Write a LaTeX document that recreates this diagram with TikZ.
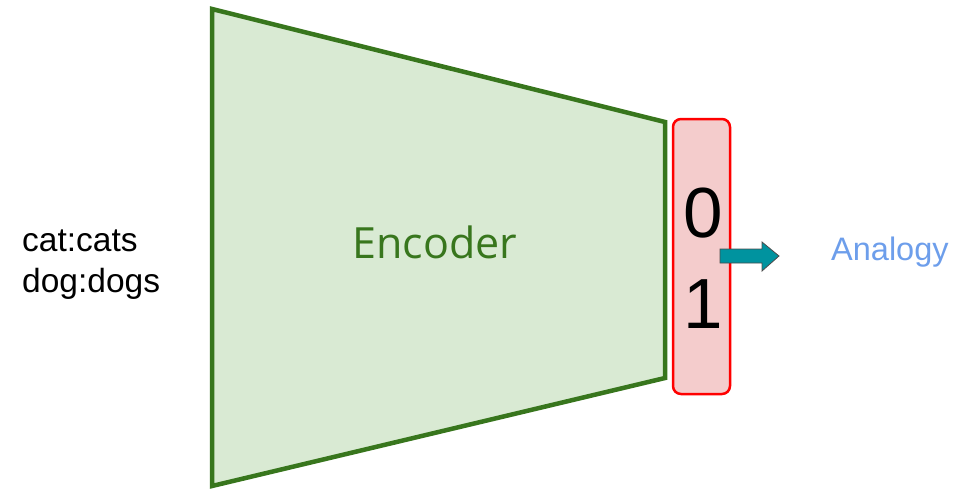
\documentclass[tikz,border=0pt]{standalone}
\usepackage{fontspec}
\setmainfont{Liberation Sans}
\newfontfamily\encfont{Open Sans}
\usetikzlibrary{positioning}
\definecolor{encfill}{HTML}{D9EAD3}
\definecolor{encline}{HTML}{38761D}
\definecolor{codefill}{HTML}{F4CCCC}
\definecolor{arrowfill}{HTML}{00939F}
\definecolor{outblue}{HTML}{6D9EEB}
\tikzset{
  encoder/.style={fill=encfill,draw=encline,line width=4.5pt,line join=miter},
  encname/.style={font=\encfont\fontsize{43}{43}\selectfont,text=encline,inner sep=0},
  code/.style={rectangle,rounded corners=8pt,fill=codefill,draw=red,line width=2.5pt,
    minimum width=57pt,minimum height=275pt,inner sep=0},
  digit/.style={font=\fontsize{71}{71}\selectfont,inner sep=0},
  word/.style={font=\fontsize{33.5}{41}\selectfont,inner sep=0,anchor=base west},
  fat/.style={fill=arrowfill,draw=gray!60!black,line width=0.8pt,line join=miter},
  outname/.style={font=\fontsize{32.5}{32}\selectfont,text=outblue,inner sep=0,anchor=base west}
}

\begin{document}
\begin{tikzpicture}[x=1pt,y=-1pt]
    \useasboundingbox (0,0) rectangle (974,490);

    % input words
    \node[word] (cat) at (22,251) {cat:cats};
    \node[word] (dog) at (22,292) {dog:dogs};

    % encoder body
    \draw[encoder] (212,9) coordinate(enc tl) -- (665,122) coordinate(enc tr)
      -- (665,378) coordinate(enc br) -- (212,486) coordinate(enc bl) -- cycle;
    \node[encname,anchor=base] (enc) at (435,258) {Encoder};

    % code vector
    \node[code] (code) at (701.5,256.5) {};
    \node[digit] (zero) at (703,213) {0};
    \node[digit] (one) at (703,304) {1};

    % output
    \coordinate (tail) at (720,256);
    \draw[fat] (tail) ++(0,-7) -- ++(42,0) -- ++(0,-7) -- (779,256)
      -- (762,271) -- ++(0,-8) -- ++(-42,0) -- cycle;
    \node[outname] (out) at (831,260) {Analogy};
\end{tikzpicture}
\end{document}
